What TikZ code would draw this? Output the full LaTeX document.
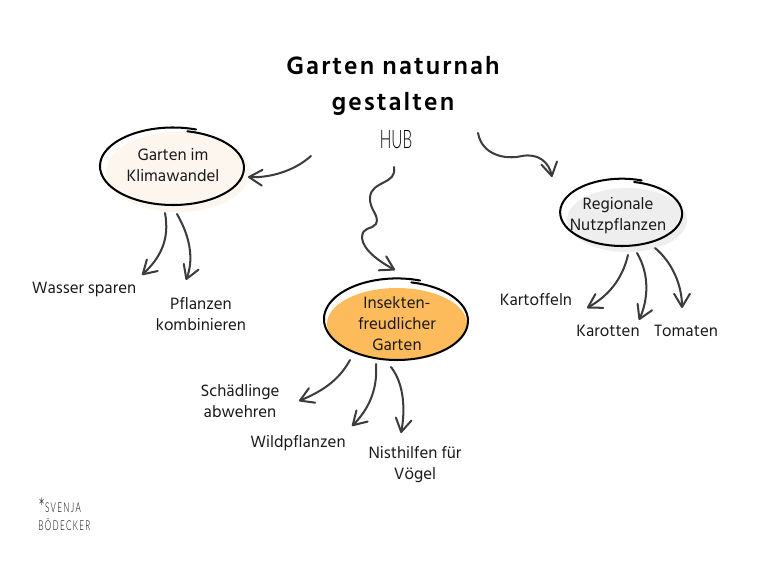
\documentclass[tikz,border=0pt]{standalone}
\usepackage{fontspec}
\usetikzlibrary{arrows.meta}
\setmainfont{Hind Siliguri}
\newfontfamily\titlefont[LetterSpace=8]{Hind Siliguri}
\newfontfamily\handfont[FakeStretch=0.6]{Lato Light}
\newfontfamily\signfont[FakeStretch=0.6,LetterSpace=10]{Lato Light}
\definecolor{inkgrey}{HTML}{3C3C3C}
\definecolor{creamfill}{HTML}{FDF6EE}
\definecolor{greyfill}{HTML}{EEEEEE}
\definecolor{orangefill}{HTML}{FDBB5C}
\tikzset{
	linkline/.style={draw=inkgrey, line width=1.15pt, line cap=round, -{Straight Barb[length=7.5pt,width=9pt,round]}},
	inkline/.style={draw=black, line width=1.15pt, line cap=round},
	gardentext/.style={font=\fontsize{9.6}{11.9}\selectfont, align=center, text=black!90, inner sep=0pt},
	titletext/.style={font=\titlefont\bfseries\fontsize{14.6}{20.4}\selectfont, align=center, inner sep=0pt},
}
\def\inkring(#1,#2)(#3,#4){\draw[inkline] plot[smooth,domain=12:378,samples=60] ({#1+#3*(1-0.04*cos(\x/2)*cos(\x/2)*cos(\x/2))*sin(\x)},{#2-#4*(1-0.04*cos(\x/2)*cos(\x/2)*cos(\x/2))*cos(\x)});}

\begin{document}
\begin{tikzpicture}[x=0.02cm, y=-0.02cm]
	\useasboundingbox (0, 0) rectangle (768, 576);

	% blobs behind the rings
	\fill[creamfill] (178, 172) ellipse (72 and 40);
	\fill[greyfill] (627, 220) ellipse (60 and 32);
	\fill[orangefill] (397, 324) ellipse (70 and 36);

	\inkring(173,167)(72,38)
	\inkring(622,213)(61,33)
	\inkring(397,320)(72,40)

	% title and hub
	\node[titletext] (title) at (393, 86) {Garten naturnah\\gestalten};
	\node[inner sep=0pt, font=\handfont\fontsize{14.5}{16}\selectfont] (hub) at (396, 140) {HUB};

	% topics
	\node[gardentext] (klima) at (173, 165) {Garten im\\Klimawandel};
	\node[gardentext] (regional) at (618, 216) {Regionale\\Nutzpflanzen};
	\node[gardentext] (insekten) at (397, 324) {Insekten-\\freudlicher\\Garten};

	% leaves
	\node[gardentext] (wasser) at (84, 289) {Wasser sparen};
	\node[gardentext] (pflanzen) at (201, 314) {Pflanzen\\kombinieren};
	\node[gardentext] (kartoffeln) at (536, 300) {Kartoffeln};
	\node[gardentext] (karotten) at (608, 331) {Karotten};
	\node[gardentext] (tomaten) at (686, 331) {Tomaten};
	\node[gardentext] (schaedlinge) at (240, 401) {Schädlinge\\abwehren};
	\node[gardentext] (wild) at (298, 443) {Wildpflanzen};
	\node[gardentext] (nist) at (415, 465) {Nisthilfen für\\Vögel};

	% hub arrows
	\draw[linkline] ([shift={(-85,16)}]hub.center) .. controls (293, 172) and (268, 178) .. ([shift={(75,12)}]klima.center);
	\draw[linkline] ([shift={(-2,27)}]hub.center) .. controls (397, 185) and (372, 180) .. (370, 197)
		.. controls (369, 210) and (380, 215) .. (376, 224)
		.. controls (372, 230) and (362, 226) .. (362, 238)
		.. controls (363, 250) and (380, 262) .. ([shift={(-2,-54)}]insekten.center);
	\draw[linkline] ([shift={(82,-7)}]hub.center) .. controls (482, 155) and (505, 160) .. (522, 156)
		.. controls (538, 153) and (549, 162) .. ([shift={(-66,-39)}]regional.center);

	% topic arrows
	\draw[linkline] ([shift={(-8,48)}]klima.center) .. controls (170, 240) and (160, 258) .. ([shift={(58,-14)}]wasser.center);
	\draw[linkline] ([shift={(4,49)}]klima.center) .. controls (192, 240) and (193, 262) .. ([shift={(-15,-34)}]pflanzen.center);
	\draw[linkline] ([shift={(10,39)}]regional.center) .. controls (622, 280) and (608, 296) .. ([shift={(51,8)}]kartoffeln.center);
	\draw[linkline] ([shift={(19,37)}]regional.center) .. controls (650, 275) and (648, 300) .. ([shift={(31,-11)}]karotten.center);
	\draw[linkline] ([shift={(37,32)}]regional.center) .. controls (672, 262) and (682, 285) .. ([shift={(-4,-23)}]tomaten.center);
	\draw[linkline] ([shift={(-47,36)}]insekten.center) .. controls (338, 382) and (320, 392) .. ([shift={(59,0)}]schaedlinge.center);
	\draw[linkline] ([shift={(-21,40)}]insekten.center) .. controls (378, 390) and (368, 410) .. ([shift={(54,-17)}]wild.center);
	\draw[linkline] ([shift={(-6,43)}]insekten.center) .. controls (405, 385) and (405, 412) .. ([shift={(-14,-32)}]nist.center);

	% signature
	\node[inner sep=0pt, anchor=west, font=\signfont\fontsize{7.7}{7.9}\selectfont, align=left] (sign) at (38, 514) {\raisebox{-2.6pt}{\fontsize{15}{7.9}\selectfont *}SVENJA\\BÖDECKER};
\end{tikzpicture}
\end{document}
